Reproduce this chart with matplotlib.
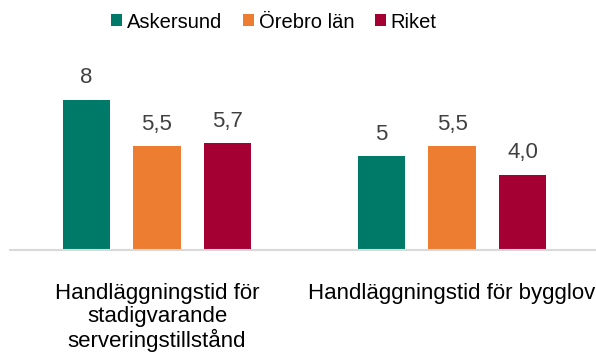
import matplotlib.pyplot as plt
import numpy as np

plt.rcParams['font.family'] = ['Liberation Sans', 'DejaVu Sans']

categories = ["Handläggningstid för\nstadigvarande\nserveringstillstånd",
              "Handläggningstid för bygglov"]
series = ["Askersund", "Örebro län", "Riket"]
values = [[8, 5], [5.5, 5.5], [5.7, 4.0]]
labels = [["8", "5"], ["5,5", "5,5"], ["5,7", "4,0"]]
colors = ["#007A68", "#ED7D31", "#A50034"]

fig = plt.figure(figsize=(5.96, 3.54), dpi=100)
ax = fig.add_axes([9.5 / 596, 104.5 / 354, 590 / 596, 168.75 / 354])

x = np.arange(len(categories))
width = 0.16
step = 0.24
for i, (name, vals, labs, col) in enumerate(zip(series, values, labels, colors)):
    pos = x + (i - 1) * step
    bars = ax.bar(pos, vals, width, color=col, label=name)
    for b, lab in zip(bars, labs):
        ax.annotate(lab, (b.get_x() + b.get_width() / 2, b.get_height()),
                    xytext=(0, 8), textcoords='offset points',
                    ha='center', va='bottom', fontsize=16, color='#404040')

ax.set_xlim(-0.5, 1.5)
ax.set_ylim(0, 9)
ax.set_yticks([])
ax.set_xticks([])
for s in ['top', 'right', 'left']:
    ax.spines[s].set_visible(False)
ax.spines['bottom'].set_color('#D9D9D9')
ax.spines['bottom'].set_linewidth(1.5)

# category names under the baseline
for xi, cat in zip(x, categories):
    ax.text(xi, -0.2, cat, transform=ax.get_xaxis_transform(),
            ha='center', va='top', fontsize=16, color='black',
            linespacing=1.1)

fig.legend(loc='center', bbox_to_anchor=(274 / 596, 1 - 22 / 354), ncol=3,
           frameon=False, fontsize=14.5, handlelength=0.55, handleheight=0.55,
           handletextpad=0.25, columnspacing=1.0)

fig.savefig('out.png', dpi=100)
